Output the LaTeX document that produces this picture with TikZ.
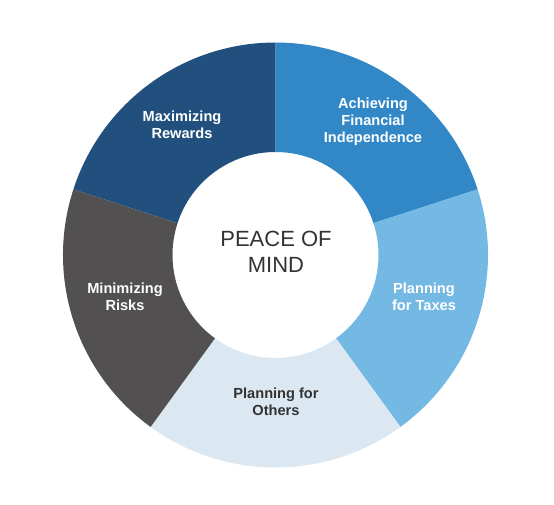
\documentclass[tikz,border=0pt]{standalone}
\usepackage{fontspec}
\setmainfont{Liberation Sans}
\definecolor{rewardsblue}{HTML}{21507F}
\definecolor{achieveblue}{HTML}{3288C6}
\definecolor{taxesblue}{HTML}{74B8E4}
\definecolor{othersblue}{HTML}{DCE8F1}
\definecolor{risksgray}{HTML}{525051}
\definecolor{textgray}{HTML}{333333}
\begin{document}
\begin{tikzpicture}[x=1pt, y=1pt,
  seglabel/.style={font=\bfseries\fontsize{14.6}{16.8}\selectfont, align=center, text=white}]
  \fill[white] (-275.5,-249) rectangle (278.5,255);
  \useasboundingbox (-275.5,-249) rectangle (278.5,255);
  % Maximizing Rewards
  \fill[rewardsblue] (90:212.5) arc (90:162:212.5) -- (162:103) arc (162:90:103) -- cycle;
  % Achieving Financial Independence
  \fill[achieveblue] (18:212.5) arc (18:90:212.5) -- (90:103) arc (90:18:103) -- cycle;
  % Planning for Taxes
  \fill[taxesblue] (-54:212.5) arc (-54:18:212.5) -- (18:103) arc (18:-54:103) -- cycle;
  % Planning for Others
  \fill[othersblue] (-126:212.5) arc (-126:-54:212.5) -- (-54:103) arc (-54:-126:103) -- cycle;
  % Minimizing Risks
  \fill[risksgray] (162:212.5) arc (162:234:212.5) -- (234:103) arc (234:162:103) -- cycle;
  % labels
  \node[seglabel] (rewards) at (-93.5,130) {Maximizing\\Rewards};
  \node[seglabel] (achieve) at (97.5,133) {Achieving\\Financial\\Independence};
  \node[seglabel] (taxes) at (148.5,-42) {Planning\\for Taxes};
  \node[seglabel, text=textgray] (others) at (0.5,-147) {Planning for\\Others};
  \node[seglabel] (risks) at (-150.5,-42) {Minimizing\\Risks};
  % centre
  \node[font=\fontsize{22}{26}\selectfont, align=center, text=textgray] (mind) at (0.5,3) {PEACE OF\\MIND};
\end{tikzpicture}
\end{document}
